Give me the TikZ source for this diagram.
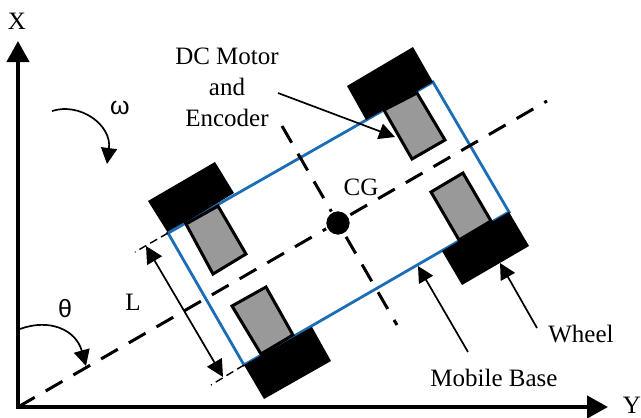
\documentclass[tikz,border=0pt]{standalone}
\usepackage{fontspec}
\setmainfont{Liberation Serif}
\newfontfamily\greekfont{Liberation Sans}
\usetikzlibrary{arrows.meta}
\definecolor{baseblue}{RGB}{27,110,182}
\definecolor{motorgray}{RGB}{153,153,153}
\tikzset{
    label text/.style={inner sep=0pt, font=\fontsize{25}{31}\selectfont, align=center},
    greek text/.style={inner sep=0pt, font=\fontsize{25}{28}\greekfont},
    axis/.style={line width=4.4pt, {Triangle[length=21pt,width=22pt]}-{Triangle[length=21pt,width=22pt]}},
    center line/.style={line width=3pt, dash pattern=on 19.3pt off 12.7pt},
    witness/.style={line width=1.4pt, dash pattern=on 8pt off 4.5pt},
    pointer/.style={line width=1.7pt, -{Triangle[length=16pt,width=16pt]}},
    dim arrow/.style={line width=1.7pt, {Triangle[length=17pt,width=17pt]}-{Triangle[length=17pt,width=17pt]}},
    base edge/.style={line width=2.8pt, draw=baseblue},
}
\begin{document}
\begin{tikzpicture}[x=1pt, y=-1pt]
    \useasboundingbox (0,0) rectangle (641,418);

    \coordinate (origin) at (18,407);
    \coordinate (xtip) at (18,41);
    \coordinate (ytip) at (608,407);

    % MOBILE BASE
    \draw[base edge] (168,233) -- (244,365) -- (509,212) -- (433,82) -- cycle;

    % MOTORS
    \foreach \ax/\ay/\bx/\by/\cx/\cy/\dx/\dy in {
            186/224/218/206/246/254/213/274,
            232/306/266/287/293/335/261/354,
            384/110/417/93/445/140/412/159,
            431/192/463/173/491/221/459/240} {
        \draw[line width=3pt, fill=motorgray]
            (\ax,\ay) -- (\bx,\by) -- (\cx,\cy) -- (\dx,\dy) -- cycle;
    }

    % WHEELS
    \foreach \ax/\ay/\bx/\by/\cx/\cy/\dx/\dy in {
            148/201/215/162/234/193/168/233,
            244/365/312/327/331/361/264/399,
            347/86/413/47/433/82/366/120,
            442/251/509/212/529/246/462/285} {
        \fill[black] (\ax,\ay) -- (\bx,\by) -- (\cx,\cy) -- (\dx,\dy) -- cycle;
    }
    \draw[base edge] (168,233) -- (184,224);

    % CENTER LINES
    \draw[center line] (origin) -- (547,101);
    \draw[center line] (282,126) -- (397,325);
    \node[circle, fill=black, draw=white, line width=1.5pt, minimum size=25pt, inner sep=0pt] (cgdot) at (338,223) {};

    % AXES
    \draw[axis] (xtip) -- (origin) -- (ytip);
    \node[label text] (xlabel) at (17,21) {X};
    \node[label text] (ylabel) at (632,405) {Y};

    % ANGLES
    \coordinate (omegastart) at (52,111);
    \coordinate (omegatip) at (107,164);
    \coordinate (thetastart) at (20,329);
    \coordinate (thetatip) at (86,366);
    \draw[pointer] (omegastart) .. controls (80,102) and (112,125) .. (omegatip);
    \draw[pointer] (thetastart) .. controls (50,318) and (76,330) .. (thetatip);
    \node[greek text] (omega) at (120,108) {ω};
    \node[greek text] (theta) at (65,309) {θ};

    % WIDTH
    \coordinate (cornertop) at (168,233);
    \coordinate (cornerbot) at (244,365);
    \coordinate (witnesstop) at (135,252);
    \coordinate (witnessbot) at (211,385);
    \coordinate (ltop) at (146,246);
    \coordinate (lbot) at (223,377);
    \draw[witness] (cornertop) -- (witnesstop);
    \draw[witness] (cornerbot) -- (witnessbot);
    \draw[dim arrow] (ltop) -- (lbot);
    \node[label text] (width) at (133,302) {L};

    % LABELS
    \node[label text] (dcmotor) at (227,87) {DC Motor\\and\\Encoder};
    \node[label text] (cg) at (361,187) {CG};
    \node[label text] (wheel) at (581,334) {Wheel};
    \node[label text] (mobilebase) at (494,378) {Mobile Base};

    % POINTERS
    \coordinate (dcstart) at (278,93);
    \coordinate (dctip) at (395,137);
    \coordinate (mobilestart) at (468,352);
    \coordinate (mobiletip) at (418,266);
    \coordinate (wheelstart) at (537,328);
    \coordinate (wheeltip) at (500,263);
    \draw[pointer] (dcstart) -- (dctip);
    \draw[pointer] (mobilestart) -- (mobiletip);
    \draw[pointer] (wheelstart) -- (wheeltip);
\end{tikzpicture}
\end{document}
